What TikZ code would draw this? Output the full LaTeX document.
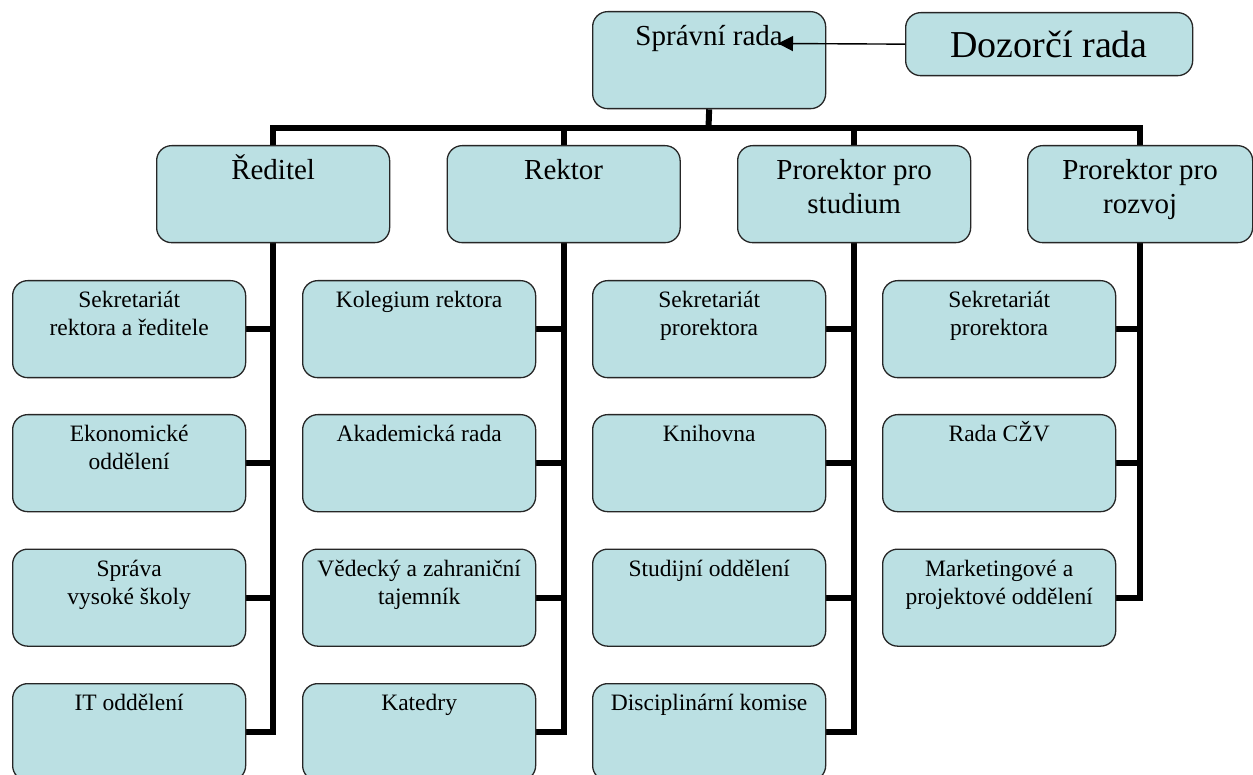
\documentclass[tikz,border=0pt]{standalone}
\usepackage{fontspec}
\setmainfont{Liberation Serif}
\usetikzlibrary{arrows.meta,backgrounds}
\definecolor{boxfill}{RGB}{187,224,227}

\begin{document}
\begin{tikzpicture}[x=1pt, y=-1pt,
    box/.style={draw=black!85, line width=1.3pt, rounded corners=15pt, fill=boxfill, inner sep=0pt, anchor=north west},
    big/.style={box, font=\fontsize{29}{34}\selectfont,
        execute at begin node={\begin{minipage}[c][97pt][t]{#1}\centering\rule{0pt}{34pt}},
        execute at end node={\end{minipage}}},
    big/.default=233pt,
    small/.style={box, font=\fontsize{23.5}{28}\selectfont,
        execute at begin node={\begin{minipage}[c][97pt][t]{233pt}\centering\rule{0pt}{27pt}},
        execute at end node={\end{minipage}}},
    thickline/.style={line width=6pt}]
    \useasboundingbox (0,0) rectangle (1253,775);

    % Draw nodes
    \node[big] (0) at (592, 11) {Správní rada};
    \node[box, minimum width=287pt, minimum height=63pt, font=\fontsize{38}{44}\selectfont] (9) at (905, 12) {Dozorčí rada};

    \node[big] (1) at (156, 145) {Ředitel};
    \node[big] (2) at (446.5, 145) {Rektor};
    \node[big] (3) at (737, 145) {Prorektor pro\\studium};
    \node[big=225pt] (4) at (1027, 145) {Prorektor pro\\rozvoj};

    \node[small] (11) at (12, 280) {Sekretariát\\rektora a ředitele};
    \node[small] (12) at (12, 414) {Ekonomické\\oddělení};
    \node[small] (13) at (12, 548.5) {Správa\\vysoké školy};
    \node[small] (14) at (12, 683) {IT oddělení};

    \node[small] (21) at (302, 280) {Kolegium rektora};
    \node[small] (22) at (302, 414) {Akademická rada};
    \node[small] (23) at (302, 548.5) {Vědecký a zahraniční\\tajemník};
    \node[small] (24) at (302, 683) {Katedry};

    \node[small] (31) at (592, 280) {Sekretariát\\prorektora};
    \node[small] (32) at (592, 414) {Knihovna};
    \node[small] (33) at (592, 548.5) {Studijní oddělení};
    \node[small] (34) at (592, 683) {Disciplinární komise};

    \node[small] (41) at (882, 280) {Sekretariát\\prorektora};
    \node[small] (42) at (882, 414) {Rada CŽV};
    \node[small] (43) at (882, 548.5) {Marketingové a\\projektové oddělení};

    \coordinate (bar) at (708.5, 128);
    \coordinate (tip) at (778, 43.5);

    % Draw edges
    \draw[line width=1.4pt, -{Triangle[length=15pt, width=15pt]}] (9.west) -- (tip);

    \begin{scope}[on background layer]
    \draw[thickline] (0.south) -- (bar);
    \draw[thickline] (1.center) |- (bar) -| (4.center);
    \draw[thickline] (2.center) -- (2.center |- bar);
    \draw[thickline] (3.center) -- (3.center |- bar);

    \draw[thickline] (1.center) |- (14.east);
    \draw[thickline] (11.east) -- (11.east -| 1.center);
    \draw[thickline] (12.east) -- (12.east -| 1.center);
    \draw[thickline] (13.east) -- (13.east -| 1.center);

    \draw[thickline] (2.center) |- (24.east);
    \draw[thickline] (21.east) -- (21.east -| 2.center);
    \draw[thickline] (22.east) -- (22.east -| 2.center);
    \draw[thickline] (23.east) -- (23.east -| 2.center);

    \draw[thickline] (3.center) |- (34.east);
    \draw[thickline] (31.east) -- (31.east -| 3.center);
    \draw[thickline] (32.east) -- (32.east -| 3.center);
    \draw[thickline] (33.east) -- (33.east -| 3.center);

    \draw[thickline] (4.center) |- (43.east);
    \draw[thickline] (41.east) -- (41.east -| 4.center);
    \draw[thickline] (42.east) -- (42.east -| 4.center);
    \end{scope}
\end{tikzpicture}
\end{document}
